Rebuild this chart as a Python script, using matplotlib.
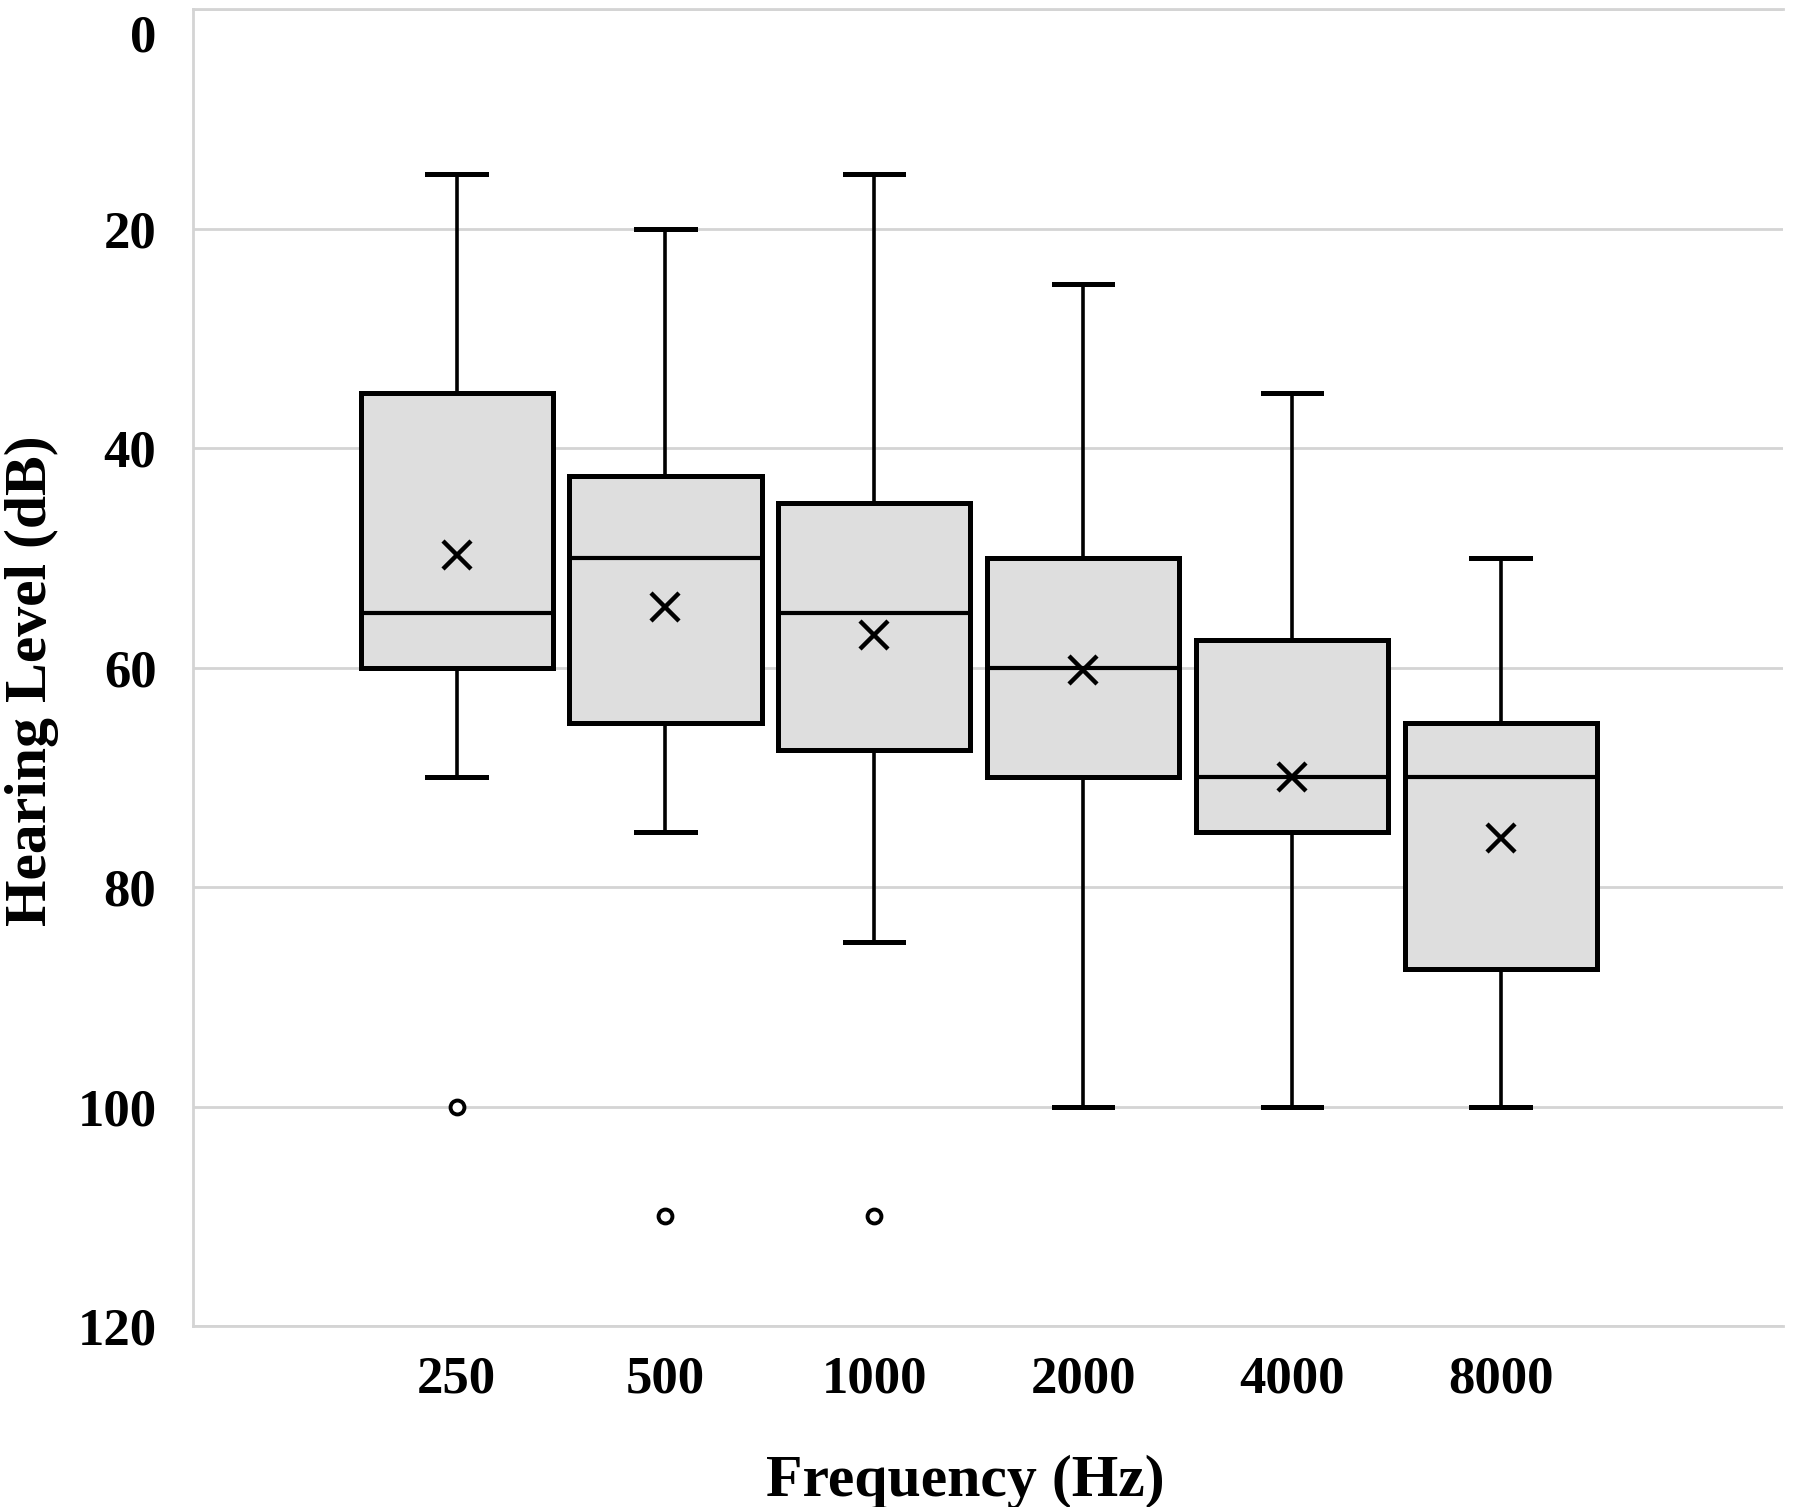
import matplotlib
matplotlib.use("Agg")
import matplotlib.pyplot as plt
import matplotlib.transforms as mtransforms

# --- данные ---
freqs = ["250", "500", "1000", "2000", "4000", "8000"]
q1 = [35, 42.5, 45, 50, 57.5, 65]
q3 = [60, 65, 67.5, 70, 75, 87.5]
medians = [55, 50, 55, 60, 70, 70]
means = [49.7, 54.5, 57.0, 60.2, 70, 75.5]
whis_lo = [15, 20, 15, 25, 35, 50]
whis_hi = [70, 75, 85, 100, 100, 100]
fliers = [[100], [110], [110], [], [], []]
y_ticks = [0, 20, 40, 60, 80, 100, 120]

plt.rcParams['font.family'] = ['Liberation Serif', 'DejaVu Serif']
plt.rcParams['font.weight'] = 'bold'

fig = plt.figure(figsize=(18, 15.07), dpi=100)
ax = fig.add_axes([0.107, 0.120, 0.8836, 0.8739])

stats = []
for i in range(len(freqs)):
    stats.append(dict(med=medians[i], q1=q1[i], q3=q3[i], whislo=whis_lo[i],
                      whishi=whis_hi[i], mean=means[i], fliers=fliers[i],
                      label=freqs[i]))

positions = list(range(1, len(freqs) + 1))
ax.bxp(stats, positions=positions, widths=0.92, capwidths=0.28,
       showmeans=True, patch_artist=True,
       boxprops=dict(facecolor='#dedede', edgecolor='black', linewidth=3.6),
       medianprops=dict(color='black', linewidth=3.0),
       whiskerprops=dict(color='black', linewidth=2.6),
       capprops=dict(color='black', linewidth=3.6),
       meanprops=dict(marker='x', markeredgecolor='black', markersize=20,
                      markeredgewidth=3.2),
       flierprops=dict(marker='o', markerfacecolor='white',
                       markeredgecolor='black', markersize=10,
                       markeredgewidth=2.8),
       zorder=3)

# --- оси ---
ax.set_xlim(-0.265, 7.353)
ax.set_ylim(120, 0)
ax.set_yticks(y_ticks)
ax.set_yticklabels([str(t) for t in y_ticks])
ax.set_xticks(positions)
ax.set_xticklabels(freqs)
ax.tick_params(axis='both', length=0, labelsize=38)
ax.tick_params(axis='y', pad=26)
ax.tick_params(axis='x', pad=21)

# подпись "0" сдвинута вниз, как в оригинале
lbl0 = ax.get_yticklabels()[0]
lbl0.set_transform(lbl0.get_transform() +
                   mtransforms.ScaledTranslation(0, -0.24, fig.dpi_scale_trans))

ax.grid(True, axis='y', color='#d4d4d4', linewidth=2.0, zorder=0)
ax.set_axisbelow(True)
for side in ['left', 'top', 'bottom']:
    ax.spines[side].set_color('#d4d4d4')
    ax.spines[side].set_linewidth(2.0)
ax.spines['right'].set_visible(False)

ax.set_xlabel('Frequency (Hz)', fontsize=43, fontweight='bold')
ax.xaxis.set_label_coords(0.486, -0.098)
ax.set_ylabel('Hearing Level (dB)', fontsize=43, fontweight='bold')
ax.yaxis.set_label_coords(-0.084, 0.49)

fig.savefig('out.png', dpi=100, facecolor='white')
